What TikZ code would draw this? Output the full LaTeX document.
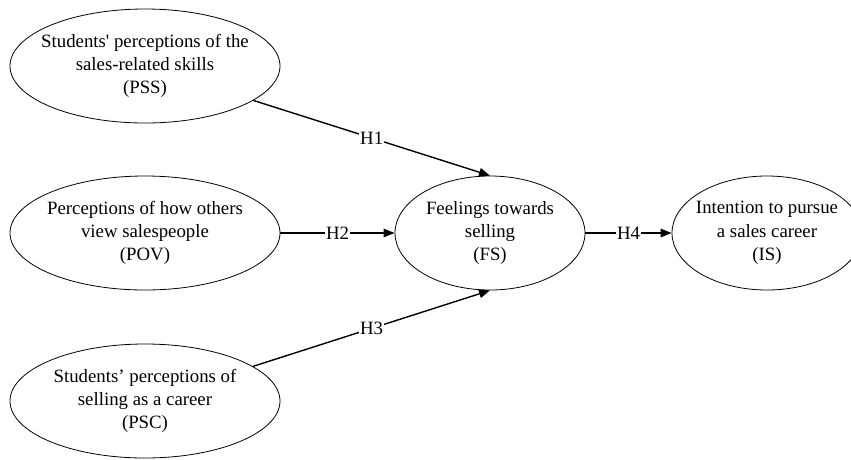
\documentclass[tikz,border=0pt]{standalone}
\usepackage{fontspec}
\setmainfont{Liberation Serif}
\usetikzlibrary{shapes.geometric,arrows.meta}

\begin{document}
\begin{tikzpicture}[x=1pt,y=-1pt,
    construct/.style ={ellipse, draw, line width=0.8pt, inner xsep=-12pt, inner ysep=0pt, minimum width=270pt,
      minimum height=114pt, align=center, font=\fontsize{18.8}{23.3}\selectfont},
    outcome/.style ={construct, minimum width=190pt},
    link/.style ={line width=1.4pt, -{Triangle[length=11pt,width=8.5pt]}},
    hyp/.style ={fill=white, inner sep=1pt, font=\fontsize{18.8}{22}\selectfont}]
   \path[use as bounding box, clip] (0,0) rectangle (851,459);
   \node[construct] (PSS) at (145,66) {Students\textquotesingle{} perceptions of the\\sales-related skills\\(PSS)};
   \node[construct] (POV) at (145,233) {Perceptions of how others\\view salespeople\\(POV)};
   \node[construct] (PSC) at (145,401) {Students’ perceptions of\\selling as a career\\(PSC)};
   \node[outcome] (FS) at (490,233) {Feelings towards\\selling\\(FS)};
   \node[outcome] (IS) at (767,233) {Intention to pursue\\a sales career\\(IS)};
   \draw[link] (PSS) -- node[hyp] {H1} (FS.north);
   \draw[link] (POV) -- node[hyp] {H2} (FS);
   \draw[link] (PSC) -- node[hyp] {H3} (FS.south);
   \draw[link] (FS) -- node[hyp] {H4} (IS);
 \end{tikzpicture}
\end{document}
